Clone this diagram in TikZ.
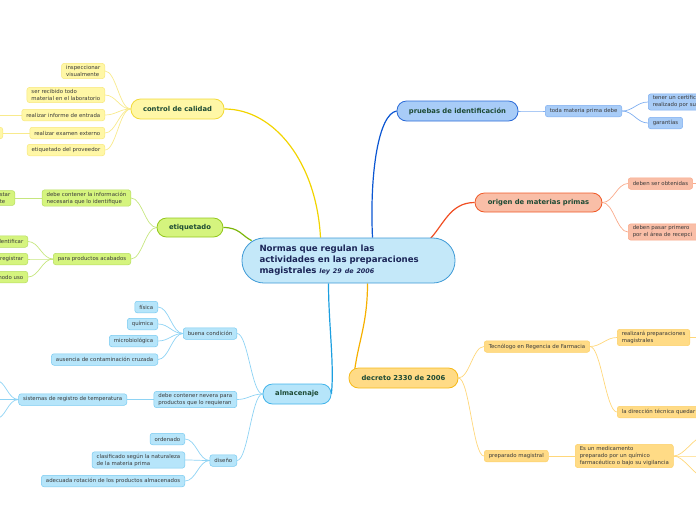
\documentclass[tikz,border=0pt]{standalone}
\usepackage{fontspec}
\setmainfont{DejaVu Sans}
\usetikzlibrary{backgrounds}

\definecolor{ctrfill}{HTML}{C4E8F9}
\definecolor{ctrdraw}{HTML}{3E9AD6}
\definecolor{ctrtxt}{HTML}{1B2557}
\definecolor{topictxt}{HTML}{1D4A34}
\definecolor{leaftxt}{HTML}{3A3A3A}
\definecolor{yelline}{HTML}{F2D400}
\definecolor{yelfill}{HTML}{FFF7A6}
\definecolor{yeldraw}{HTML}{F2DA3A}
\definecolor{yelsub}{HTML}{F8EA8C}
\definecolor{grnline}{HTML}{7CB60A}
\definecolor{grnfill}{HTML}{D5F47E}
\definecolor{grndraw}{HTML}{94C81E}
\definecolor{grnsub}{HTML}{C6E67E}
\definecolor{blueline}{HTML}{1C9FE0}
\definecolor{bluefill}{HTML}{B6E5FA}
\definecolor{bluedraw}{HTML}{43B4EA}
\definecolor{bluesub}{HTML}{8ED3F4}
\definecolor{prline}{HTML}{0B56D2}
\definecolor{prfill}{HTML}{A8CCF7}
\definecolor{prdraw}{HTML}{2D6CD8}
\definecolor{prsub}{HTML}{7FAEF0}
\definecolor{orline}{HTML}{F04E23}
\definecolor{orfill}{HTML}{F9BEA7}
\definecolor{ordraw}{HTML}{F05A28}
\definecolor{orsub}{HTML}{F9A98A}
\definecolor{decline}{HTML}{F6B000}
\definecolor{decfill}{HTML}{FFDB86}
\definecolor{decdraw}{HTML}{F6BA1A}
\definecolor{decsub}{HTML}{FFD77A}

\begin{document}
\begin{tikzpicture}[
	x=1pt, y=-1pt,
	topic/.style={draw, line width=0.8pt, rounded corners=9.5pt, minimum height=20pt, inner xsep=0pt,
		font=\fontsize{6.8}{8}\selectfont\bfseries, text=topictxt},
	leaf/.style={draw, line width=0.5pt, rounded corners=2.5pt, minimum height=11.5pt, inner xsep=4.5pt,
		inner ysep=2pt, font=\fontsize{5.4}{7}\selectfont, text=leaftxt, align=left},
	yel/.style={leaf, fill=yelfill, draw=yelsub!80!yeldraw},
	grn/.style={leaf, fill=grnfill, draw=grnsub!70!grndraw},
	blu/.style={leaf, fill=bluefill, draw=bluesub!70!bluedraw},
	prb/.style={leaf, fill=prfill, draw=prsub},
	org/.style={leaf, fill=orfill, draw=orsub},
	dec/.style={leaf, fill=decfill, draw=decsub!80!decdraw},
	toL/.style={to path={.. controls +(-11,0) and +(11,0) .. (\tikztotarget)}},
	toR/.style={to path={.. controls +(11,0) and +(-11,0) .. (\tikztotarget)}}
	]
	\useasboundingbox (0,0) rectangle (696,520);
	
	% Central topic
	\node[draw=ctrdraw, fill=ctrfill, line width=0.8pt, rounded corners=22pt, minimum width=213pt, minimum height=45pt,
		text width=178pt, align=left, text=ctrtxt, font=\fontsize{8.6}{11}\selectfont\bfseries]
		(ctr) at (348.5,260.5) {Normas que regulan las\\actividades en las preparaciones\\magistrales {\fontsize{6.4}{8}\selectfont\itshape ley 29 de 2006}};
	
	% Main topics
	\node[topic, fill=yelfill, draw=yeldraw, minimum width=93pt] (calidad) at (177.5,109) {control de calidad};
	\node[topic, fill=grnfill, draw=grndraw, minimum width=66pt, minimum height=19pt] (etiq) at (190,227.5) {etiquetado};
	\node[topic, fill=bluefill, draw=bluedraw, minimum width=68pt] (almac) at (297,394) {almacenaje};
	\node[topic, fill=prfill, draw=prdraw, minimum width=121pt] (pruebas) at (457.5,111) {pruebas de identificación};
	\node[topic, fill=orfill, draw=ordraw, minimum width=127pt, minimum height=19pt] (origen) at (538.5,202.5) {origen de materias primas};
	\node[topic, fill=decfill, draw=decdraw, minimum width=109pt] (decreto) at (403.5,378) {decreto 2330 de 2006};
	
	% control de calidad
	\node[yel, anchor=east] (cal1) at (105,71) {inspeccionar\\ visualmente};
	\node[yel, anchor=east] (cal2) at (105,95) {ser recibido todo\\material en el laboratorio};
	\node[yel, anchor=east] (cal3) at (105,115) {realizar informe de entrada};
	\node[yel, anchor=east] (cal4) at (105,133) {realizar examen externo};
	\node[yel, anchor=east] (cal5) at (105,150) {etiquetado del proveedor};
	\node[yel, anchor=east, minimum width=20pt] (cal4x) at (3,133) {};
	\coordinate (calout) at (-5,115);
	
	% etiquetado
	\node[grn, anchor=east] (et1) at (131,198) {debe contener la información\\necesaria que lo identifique};
	\node[grn, anchor=east] (et0) at (15,198) {star\\te};
	\node[grn, anchor=east] (et2) at (131,259) {para productos acabados};
	\node[grn, anchor=east, text width=34pt, align=right] (et2a) at (28,241.5) {identificar};
	\node[grn, anchor=east, text width=34pt, align=right] (et2b) at (28,259) {registrar};
	\node[grn, anchor=east, text width=34pt, align=right] (et2c) at (28,277) {modo uso};
	
	% almacenaje
	\node[blu, anchor=east] (al1) at (237,333.5) {buena condición};
	\node[blu, anchor=east] (al1a) at (158,307) {física};
	\node[blu, anchor=east] (al1b) at (158,324) {química};
	\node[blu, anchor=east] (al1c) at (158,341) {microbiológica};
	\node[blu, anchor=east] (al1d) at (158,359.5) {ausencia de contaminación cruzada};
	\node[blu, anchor=east] (al2) at (237,399.5) {debe contener nevera para\\productos que lo requieran};
	\node[blu, anchor=east] (al2a) at (127,399.5) {sistemas de registro de temperatura};
	\coordinate (alout1) at (-5,380);
	\coordinate (alout2) at (-5,399.5);
	\coordinate (alout3) at (-5,419);
	\node[blu, anchor=east] (al3) at (237,460.5) {diseño};
	\node[blu, anchor=east] (al3a) at (185,439) {ordenado};
	\node[blu, anchor=east] (al3b) at (185,460) {clasificado según la naturaleza\\ de la materia prima};
	\node[blu, anchor=east] (al3c) at (185,481) {adecuada rotación de los productos almacenados};
	
	% pruebas de identificacion
	\node[prb, anchor=west] (pr1) at (545,111) {toda materia prima debe};
	\node[prb, anchor=west, text width=62pt] (pr1a) at (648,102) {tener un certific\\realizado por su};
	\node[prb, anchor=west] (pr1b) at (648,123) {garantías};
	
	% origen de materias primas
	\node[org, anchor=west] (or1) at (628,183.5) {deben ser obtenidas};
	\coordinate (orout) at (705,183.5);
	\node[org, anchor=west, text width=75pt] (or2) at (628,232) {deben pasar primero\\ por el área de recepci};
	
	% decreto
	\node[dec, anchor=west] (de1) at (484,346.5) {Tecnólogo en Regencia de Farmacia};
	\node[dec, anchor=west] (de1a) at (617,337.5) {realizará preparaciones\\ magistrales};
	\coordinate (deout) at (705,337.5);
	\node[dec, anchor=west, text width=90pt] (de1b) at (617,412) {la dirección técnica quedar};
	\node[dec, anchor=west] (de2) at (484,456) {preparado magistral};
	\node[dec, anchor=west] (de2a) at (575,456) {Es un medicamento\\preparado por un químico\\farmacéutico o bajo su vigilancia};
	\coordinate (deout1) at (705,436);
	\coordinate (deout2) at (705,456);
	\coordinate (deout3) at (705,477);
	\coordinate (decin) at ([xshift=6pt,yshift=-3pt]decreto.north west);
	
	% Connectors
	\begin{scope}[on background layer]
		\draw[yelline, line width=1.2pt] (calidad.east) .. controls +(50,0) and +(-4,-75) .. ([xshift=-28pt]ctr.north);
		\draw[grnline, line width=1.2pt] (etiq.east) .. controls +(16,0) and +(-10,-5) .. ([xshift=10pt,yshift=-3pt]ctr.north west);
		\draw[blueline, line width=1.2pt] (almac.east) .. controls +(3,-30) and +(0,40) .. ([xshift=-20pt]ctr.south);
		\draw[prline, line width=1.2pt] (pruebas.west) .. controls +(-18,3) and +(-3,-65) .. ([xshift=24pt]ctr.north);
		\draw[orline, line width=1.2pt] (origen.west) .. controls +(-25,0) and +(15,-15) .. ([xshift=80pt,yshift=-3pt]ctr.north);
		\draw[decline, line width=1.2pt] ([xshift=19pt]ctr.south) .. controls +(0,40) and +(4,-30) .. (decin);
		
		\foreach \n in {cal1,cal2,cal3,cal4,cal5}
			\draw[yelsub, line width=0.7pt] (calidad.west) to[toL] (\n.east);
		\draw[yelsub, line width=0.7pt] (cal3.west) -- (calout);
		\draw[yelsub, line width=0.7pt] (cal4.west) -- (cal4x.east);
		
		\foreach \n in {et1,et2}
			\draw[grnsub, line width=0.7pt] (etiq.west) to[toL] (\n.east);
		\draw[grnsub, line width=0.7pt] (et1.west) -- (et0.east);
		\foreach \n in {et2a,et2b,et2c}
			\draw[grnsub, line width=0.7pt] (et2.west) to[toL] (\n.east);
		
		\foreach \n in {al1,al2,al3}
			\draw[bluesub, line width=0.7pt] (almac.west) to[toL] (\n.east);
		\foreach \n in {al1a,al1b,al1c,al1d}
			\draw[bluesub, line width=0.7pt] (al1.west) to[toL] (\n.east);
		\draw[bluesub, line width=0.7pt] (al2.west) to[toL] (al2a.east);
		\foreach \n in {alout1,alout2,alout3}
			\draw[bluesub, line width=0.7pt] (al2a.west) to[toL] (\n);
		\foreach \n in {al3a,al3b,al3c}
			\draw[bluesub, line width=0.7pt] (al3.west) to[toL] (\n.east);
		
		\draw[prsub, line width=0.7pt] (pruebas.east) to[toR] (pr1.west);
		\foreach \n in {pr1a,pr1b}
			\draw[prsub, line width=0.7pt] (pr1.east) to[toR] (\n.west);
		
		\foreach \n in {or1,or2}
			\draw[orsub, line width=0.7pt] (origen.east) to[toR] (\n.west);
		\draw[orsub, line width=0.7pt] (or1.east) -- (orout);
		
		\foreach \n in {de1,de2}
			\draw[decsub, line width=0.7pt] (decreto.east) to[toR] (\n.west);
		\foreach \n in {de1a,de1b}
			\draw[decsub, line width=0.7pt] (de1.east) to[toR] (\n.west);
		\draw[decsub, line width=0.7pt] (de1a.east) -- (deout);
		\draw[decsub, line width=0.7pt] (de2.east) -- (de2a.west);
		\foreach \n in {deout1,deout2,deout3}
			\draw[decsub, line width=0.7pt] (de2a.east) to[toR] (\n);
	\end{scope}
\end{tikzpicture}
\end{document}
